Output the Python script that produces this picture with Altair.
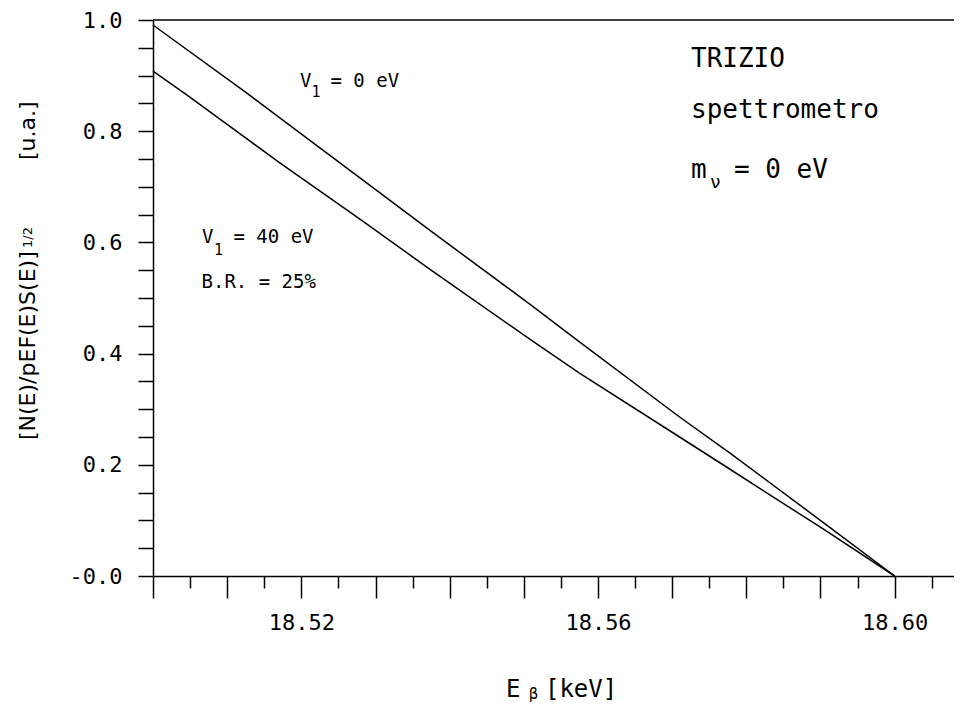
import altair as alt
import pandas as pd

# ---- data ----
e_v0 = [18.5000, 18.5128, 18.5171, 18.5306, 18.5373, 18.5508, 18.5575, 18.5710, 18.5778, 18.5912, 18.6000]
n_v0 = [0.991, 0.867, 0.824, 0.689, 0.622, 0.489, 0.421, 0.286, 0.221, 0.088, 0.0]

e_v40 = [18.5000, 18.5046, 18.5171, 18.5279, 18.5373, 18.5508, 18.5575, 18.5710, 18.5778, 18.5903, 18.6000]
n_v40 = [0.908, 0.865, 0.743, 0.642, 0.552, 0.426, 0.365, 0.250, 0.192, 0.085, 0.0]

x_tick_labels = ["18.52", "18.56", "18.60"]
y_tick_labels = ["-0.0", "0.2", "0.4", "0.6", "0.8", "1.0"]

x_ticks = [round(18.50 + 0.005 * i, 3) for i in range(22)]
y_ticks = [round(0.05 * i, 2) for i in range(21)]

FONT = "DejaVu Sans Mono"
FONT_T = "DejaVu Sans"

curves = pd.DataFrame({
    "x": e_v0 + e_v40,
    "y": n_v0 + n_v40,
    "serie": ["V1 = 0 eV"] * len(e_v0) + ["V1 = 40 eV"] * len(e_v40),
    "ord": list(range(len(e_v0))) + list(range(len(e_v40))),
})

# annotations (data coordinates), text / font size
ann_text = ["TRIZIO", "spettrometro", "m", "\u03bd", "= 0 eV",
            "V", "1", "= 0 eV",
            "V", "1", "= 40 eV",
            "B.R. = 25%",
            "E", "\u03b2", "[keV]"]
ann_x = [18.57254, 18.57254, 18.57254, 18.57510, 18.57833,
         18.51982, 18.52137, 18.52393,
         18.50661, 18.50822, 18.51085,
         18.50654,
         18.54759, 18.55070, 18.55285]
ann_y = [0.9155, 0.8237, 0.7158, 0.6978, 0.7158,
         0.8795, 0.8615, 0.8795,
         0.5989, 0.5773, 0.5989,
         0.5180,
         -0.2176, -0.2212, -0.2176]
ann_size = [26, 26, 26, 18, 26,
            19, 15, 19,
            19, 15, 19,
            19,
            24, 15, 24]
ann = pd.DataFrame({"x": ann_x, "y": ann_y, "t": ann_text, "s": ann_size})

# rotated y-axis title pieces
yt_text = ["[N(E)/pEF(E)S(E)]", "1/2", "[u.a.]"]
yt_x = [18.48409, 18.48369, 18.48409]
yt_y = [0.2446, 0.5899, 0.7482]
yt_size = [22, 13, 22]
yt = pd.DataFrame({"x": yt_x, "y": yt_y, "t": yt_text, "s": yt_size})

xs = alt.Scale(domain=[18.50, 18.608], nice=False, zero=False)
ys = alt.Scale(domain=[0.0, 1.0], nice=False, zero=False)

x_label_test = " || ".join(f"datum.value == {float(v)}" for v in x_tick_labels)
xax = alt.Axis(
    values=x_ticks,
    labelExpr=f"({x_label_test}) ? format(datum.value, '.2f') : ''",
    tickSize={"condition": {"test": "round(datum.value * 1000) % 10 == 0", "value": 22}, "value": 12},
    labelPadding=14,
    labelOverlap=False,
    labelFlush=False,
    grid=False,
    title=None,
)
yax = alt.Axis(
    values=y_ticks,
    labelExpr="round(datum.value * 100) % 20 == 0 ? (datum.value == 0 ? '-0.0' : format(datum.value, '.1f')) : ''",
    tickSize=15,
    labelPadding=16,
    labelOverlap=False,
    labelFlush=False,
    grid=False,
    title=None,
)

lines = alt.Chart(curves).mark_line(color="black", strokeWidth=1.5).encode(
    x=alt.X("x:Q", scale=xs, axis=xax),
    y=alt.Y("y:Q", scale=ys, axis=yax),
    detail="serie:N",
    order="ord:Q",
)

top = alt.Chart(pd.DataFrame({"y": [1.0]})).mark_rule(color="black", strokeWidth=1.5).encode(
    y=alt.Y("y:Q", scale=ys, axis=yax),
)

texts = alt.Chart(ann).mark_text(
    font=FONT, align="left", baseline="alphabetic", color="black"
).encode(
    x=alt.X("x:Q", scale=xs, axis=xax),
    y=alt.Y("y:Q", scale=ys, axis=yax),
    text="t:N",
    size=alt.Size("s:Q", scale=None),
)

ytitle = alt.Chart(yt).mark_text(
    font=FONT_T, align="left", baseline="alphabetic", color="black", angle=270
).encode(
    x=alt.X("x:Q", scale=xs, axis=xax),
    y=alt.Y("y:Q", scale=ys, axis=yax),
    text="t:N",
    size=alt.Size("s:Q", scale=None),
)

chart = alt.layer(lines, top, texts, ytitle).properties(
    width=801,
    height=556,
    padding={"left": 145, "top": 12, "right": 0, "bottom": 127},
    autosize=alt.AutoSizeParams(type="none"),
).configure_view(stroke=None).configure_axis(
    domainColor="black",
    domainWidth=1.5,
    tickColor="black",
    tickWidth=1.5,
    labelFont=FONT,
    labelFontSize=22,
    labelColor="black",
)

chart.save("out.html", embed_options={"renderer": "svg", "actions": False})
